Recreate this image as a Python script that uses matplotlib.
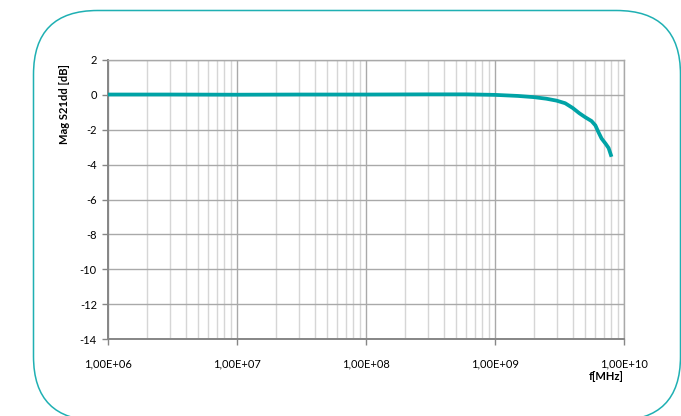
import matplotlib
matplotlib.use("Agg")
import matplotlib.pyplot as plt
from matplotlib.patches import FancyBboxPatch
from matplotlib.ticker import FuncFormatter, LogLocator, MultipleLocator

# Measured differential insertion loss
freq = [1e6, 3e6, 1e7, 3e7, 1e8, 3e8, 6e8, 1e9, 1.5e9, 2e9, 2.5e9, 3e9, 3.5e9,
        4e9, 4.5e9, 5e9, 5.6e9, 6e9, 6.3e9, 6.7e9, 7.2e9, 7.6e9, 8e9]
mag_db = [0.02, 0.02, 0.01, 0.02, 0.02, 0.03, 0.03, 0.0, -0.06, -0.13, -0.22,
          -0.33, -0.48, -0.75, -1.05, -1.28, -1.5, -1.75, -2.1, -2.5, -2.8,
          -3.05, -3.55]

x_label = "f[MHz]"
y_label = "Mag S21dd [dB]"

teal = "#00a3a6"
plt.rcParams["font.family"] = ["Lato", "DejaVu Sans"]

W, H = 681, 416
fig = plt.figure(figsize=(W / 100, H / 100), dpi=100)

# Rounded frame drawn in pixel coordinates (origin bottom-left)
bg = fig.add_axes([0, 0, 1, 1])
bg.set_xlim(0, W)
bg.set_ylim(0, H)
bg.axis("off")
left, right, top, bottom = 33.5, 680.5, 10.5, 420.5
bg.add_patch(FancyBboxPatch((left, H - bottom), right - left, bottom - top,
                            boxstyle="round,pad=0,rounding_size=64",
                            fill=False, edgecolor="#1fb0b3", linewidth=1.1,
                            clip_on=False))

ax = fig.add_axes([108 / W, 1 - 339 / H, (624 - 108) / W, (339 - 60) / H])
ax.set_xscale("log")
ax.set_xlim(1e6, 1e10)
ax.set_ylim(-14, 2)

ax.plot(freq, mag_db, color=teal, linewidth=2.7, solid_capstyle="butt", zorder=3)

ax.yaxis.set_major_locator(MultipleLocator(2))
ax.xaxis.set_major_locator(LogLocator(base=10, numticks=10))
ax.xaxis.set_minor_locator(LogLocator(base=10, subs=range(2, 10), numticks=20))
ax.xaxis.set_major_formatter(FuncFormatter(
    lambda v, p: ("%.2E" % v).replace(".", ",")))
ax.yaxis.set_major_formatter(FuncFormatter(lambda v, p: "%d" % v))

ax.grid(True, which="major", color="#a9a9a9", linewidth=1.0)
ax.grid(True, which="minor", axis="x", color="#d6d6d6", linewidth=1.0)
ax.set_axisbelow(True)

for s in ax.spines.values():
    s.set_color("#a9a9a9")
    s.set_linewidth(1.0)
ax.spines["left"].set_color("#868686")
ax.spines["bottom"].set_color("#868686")
ax.spines["left"].set_linewidth(1.4)
ax.spines["bottom"].set_linewidth(1.4)

ax.tick_params(axis="both", which="major", length=4, width=1, color="#868686",
               labelsize=8, labelcolor="#000000")
ax.tick_params(axis="x", which="major", pad=10)
ax.tick_params(axis="y", which="major", pad=4)
ax.tick_params(axis="x", which="minor", length=0)

fig.text(64 / W, 1 - 104 / H, y_label, rotation=90, ha="center", va="center",
         fontsize=8, fontweight="bold", color="#000000")
fig.text(606 / W, 1 - 376 / H, x_label, ha="center", va="center",
         fontsize=8, fontweight="bold", color="#000000")

fig.savefig("out.png", dpi=100)
